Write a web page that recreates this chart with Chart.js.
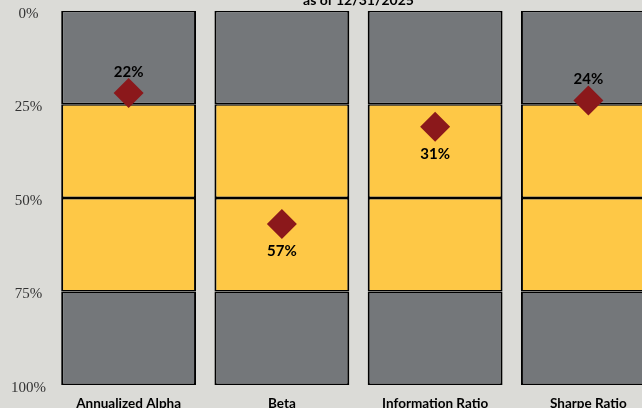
<!DOCTYPE html>
<html>
<head>
<meta charset="utf-8">
<script src="https://cdn.jsdelivr.net/npm/chart.js@4.4.1/dist/chart.umd.min.js"></script>
<style>
  html, body { margin: 0; padding: 0; background: #dbdbd7; overflow: hidden; width: 642px; height: 408px; }
  #wrap { position: absolute; left: 0; top: -40px; width: 680px; height: 460px; }
</style>
</head>
<body>
<div id="wrap"><canvas id="rankChart" width="680" height="460"></canvas></div>
<script>
// percentile rank per statistic (0% = best, shown at top)
const categories = ['Annualized Alpha', 'Beta', 'Information Ratio', 'Sharpe Ratio'];
const percentiles = [22, 57, 31, 24];
const quartileSize = [25, 25, 25, 25];
const yTicks = [0, 25, 50, 75, 100];

const GRAY = '#74777a';
const YELLOW = '#fec846';
const RED = '#8b181b';

const bandColors = [GRAY, YELLOW, YELLOW, GRAY];

const bandSets = quartileSize.map((q, i) => ({
    type: 'bar',
    data: categories.map(() => q),
    backgroundColor: bandColors[i],
    borderColor: '#000',
    borderWidth: { top: 1.5, bottom: 1.5, left: 2, right: 2 },
    borderSkipped: false,
    barPercentage: 0.88,
    categoryPercentage: 1,
    stack: 'bands',
    order: 2
}));

// labels above the diamond when it sits in the top quartile, below otherwise
const markerLabels = {
    id: 'markerLabels',
    afterDatasetsDraw(chart) {
        const meta = chart.getDatasetMeta(chart.data.datasets.length - 1);
        const ctx = chart.ctx;
        ctx.save();
        ctx.font = 'bold 15px Lato';
        ctx.fillStyle = '#000';
        ctx.textAlign = 'center';
        ctx.textBaseline = 'middle';
        meta.data.forEach((pt, i) => {
            const v = percentiles[i];
            const y = v < 25 ? pt.y - 21 : pt.y + 27;
            ctx.fillText(v + '%', pt.x, y);
        });
        ctx.restore();
    }
};

new Chart(document.getElementById('rankChart'), {
    data: {
        labels: categories,
        datasets: [
            ...bandSets,
            {
                type: 'line',
                data: percentiles,
                showLine: false,
                pointStyle: 'rectRot',
                pointRadius: 15,
                pointHoverRadius: 15,
                pointBackgroundColor: RED,
                pointBorderWidth: 0,
                stack: 'marker',
                order: 0
            }
        ]
    },
    options: {
        responsive: false,
        animation: false,
        layout: { padding: { top: 32, right: 14, bottom: 0, left: 0 } },
        plugins: {
            legend: { display: false },
            tooltip: { enabled: false },
            title: {
                display: true,
                text: 'as of 12/31/2025',
                fullSize: false,
                color: '#000',
                font: { family: 'Lato', size: 14, weight: 'bold', lineHeight: 1.2 },
                padding: { top: 0, bottom: 2 }
            }
        },
        scales: {
            x: {
                stacked: true,
                grid: { display: false, drawTicks: false },
                border: { display: false },
                ticks: {
                    color: '#000',
                    padding: 11,
                    font: { family: 'Lato', size: 13.5, weight: 'bold', lineHeight: 1.2 }
                },
                afterFit: (scale) => { scale.height = 35; }
            },
            y: {
                stacked: true,
                reverse: true,
                min: yTicks[0],
                max: yTicks[yTicks.length - 1],
                grid: { display: false, drawTicks: false },
                border: { display: false },
                afterBuildTicks: (scale) => { scale.ticks = yTicks.map(v => ({ value: v })); },
                ticks: {
                    color: '#333',
                    padding: 6,
                    labelOffset: 3,
                    crossAlign: 'center',
                    font: { family: 'Liberation Serif', size: 15 },
                    callback: (v) => v + '%'
                },
                afterFit: (scale) => { scale.width = 52; }
            }
        }
    },
    plugins: [markerLabels]
});
</script>
</body>
</html>
